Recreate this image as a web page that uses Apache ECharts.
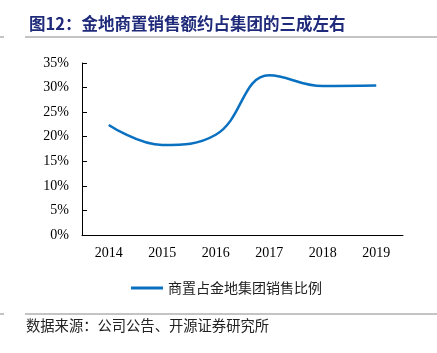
<!DOCTYPE html>
<html>
<head>
<meta charset="utf-8">
<script src="https://cdn.jsdelivr.net/npm/echarts@6/dist/echarts.min.js"></script>
<style>
  html, body { margin: 0; padding: 0; background: #fff; }
  #chart { width: 437px; height: 353px; }
</style>
</head>
<body>
<div id="chart"></div>
<script>
// 年份与比例
const years = ['2014', '2015', '2016', '2017', '2018', '2019'];
const ratio = [22.4, 18.3, 20.4, 32.5, 30.3, 30.4];
const seriesName = '商置占金地集团销售比例';
const yTicks = [0, 5, 10, 15, 20, 25, 30, 35];

const chart = echarts.init(document.getElementById('chart'));
const cjk = '"Noto Sans CJK SC", sans-serif';
const serif = '"Liberation Serif", "Times New Roman", serif';

chart.setOption({
    animation: false,
    title: {
        text: '图12：金地商置销售额约占集团的三成左右',
        left: 24,
        top: 10,
        textStyle: { fontSize: 16.5, fontWeight: 'bold', color: '#1f2a7a', fontFamily: cjk }
    },
    graphic: [
        { type: 'line', shape: { x1: 0, y1: 37, x2: 4, y2: 37 }, style: { stroke: '#888', lineWidth: 1 } },
        { type: 'line', shape: { x1: 25, y1: 37, x2: 437, y2: 37 }, style: { stroke: '#888', lineWidth: 1 } },
        { type: 'line', shape: { x1: 0, y1: 314, x2: 4, y2: 314 }, style: { stroke: '#888', lineWidth: 1 } },
        { type: 'line', shape: { x1: 25, y1: 314, x2: 437, y2: 314 }, style: { stroke: '#888', lineWidth: 1 } },
        {
            type: 'text', left: 26, top: 318,
            style: { text: '数据来源：公司公告、开源证券研究所', font: '14.3px ' + cjk, fill: '#222' }
        }
    ],
    legend: {
        data: [seriesName],
        left: 126,
        top: 276,
        itemWidth: 32,
        itemHeight: 3,
        itemGap: 5,
        icon: 'rect',
        textStyle: { fontSize: 14, color: '#222', fontFamily: cjk }
    },
    grid: { left: 82, right: 34, top: 63, bottom: 118 },
    xAxis: {
        type: 'category',
        data: years,
        axisLine: { lineStyle: { color: '#000', width: 1 } },
        axisTick: { inside: true, length: 4, lineStyle: { color: '#000' } },
        axisLabel: { color: '#000', fontSize: 14, fontFamily: serif, margin: 11 }
    },
    yAxis: {
        type: 'value',
        min: yTicks[0],
        max: yTicks[yTicks.length - 1],
        interval: 5,
        axisLine: { show: true, lineStyle: { color: '#000', width: 1 } },
        axisTick: { show: true, inside: true, length: 5, lineStyle: { color: '#000' } },
        splitLine: { show: false },
        axisLabel: { color: '#000', fontSize: 14, fontFamily: serif, formatter: '{value}%', margin: 13 }
    },
    series: [{
        name: seriesName,
        type: 'line',
        data: ratio,
        smooth: 0.42,
        symbol: 'none',
        lineStyle: { color: '#0a70c0', width: 2.5 },
        itemStyle: { color: '#0a70c0' }
    }]
});
</script>
</body>
</html>
